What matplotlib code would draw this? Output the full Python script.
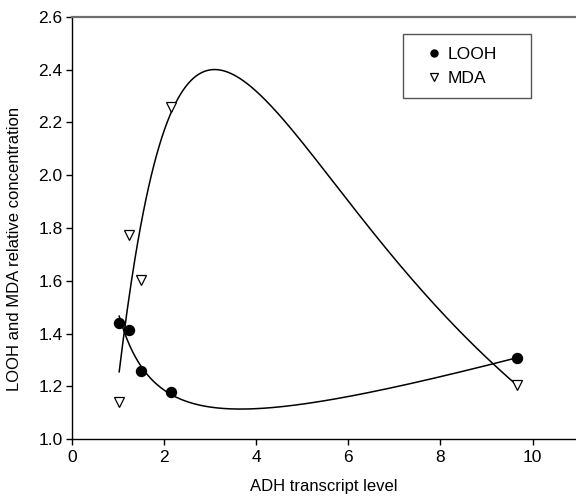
import numpy as np
import matplotlib
matplotlib.use("Agg")
from matplotlib import pyplot as plt
from matplotlib.patches import Rectangle

# measured points
adh = [1.03, 1.25, 1.50, 2.15, 9.67]
looh = [1.440, 1.414, 1.258, 1.181, 1.309]
mda = [1.143, 1.773, 1.603, 2.258, 1.204]

# fitted curves: LOOH y = a + b/x + c*x ; MDA log-normal peak
looh_fit = (0.732, 0.701, 0.0522)
mda_fit = (2.40, 3.10, 0.968)

plt.rcParams["font.family"] = ["Liberation Sans", "DejaVu Sans"]
plt.rcParams["font.size"] = 12

fig = plt.figure(figsize=(5.76, 4.99), dpi=100)
ax = fig.add_axes([0.1245, 0.1196, 0.8755, 0.8469])

xs = np.linspace(min(adh), max(adh), 300)
a, b, c = looh_fit
ax.plot(xs, a + b / xs + c * xs, color="black", lw=1.1, zorder=2)
amp, x0, w = mda_fit
ax.plot(xs, amp * np.exp(-0.5 * (np.log(xs / x0) / w) ** 2), color="black", lw=1.1, zorder=2)

ax.plot(adh, looh, "o", color="black", markersize=7.2, ls="none", label="LOOH", zorder=3)
ax.plot(adh, mda, "v", markerfacecolor="white", markeredgecolor="black", markersize=7.5,
        markeredgewidth=0.9, ls="none", label="MDA", zorder=3)

ax.set_xlim(0, 10.94)
ax.set_ylim(1.0, 2.6)
ax.set_xticks([0, 2, 4, 6, 8, 10])
ax.set_yticks(np.arange(1.0, 2.61, 0.2))
ax.yaxis.set_major_formatter(matplotlib.ticker.FormatStrFormatter("%.1f"))
ax.tick_params(direction="out", length=4, width=1, colors="black", labelsize=12.5)
ax.tick_params(axis="y", pad=2.5)

ax.spines["right"].set_visible(False)
ax.spines["top"].set_color("#6e6e6e")
ax.spines["top"].set_linewidth(1.6)
ax.spines["left"].set_linewidth(1)
ax.spines["bottom"].set_linewidth(1)

ax.set_xlabel("ADH transcript level", fontsize=12, labelpad=10)
ax.set_ylabel("LOOH and MDA relative concentration", fontsize=12, labelpad=6)
ax.yaxis.set_label_coords(-0.098, 0.45)

# legend box drawn separately so it can be wider than the entries
ax.add_patch(Rectangle((0.6564, 0.8069), 0.2538, 0.1515, transform=ax.transAxes,
                       facecolor="white", edgecolor="#555555", lw=1, zorder=4))
leg = ax.legend(loc="upper left", bbox_to_anchor=(0.7086, 0.928), frameon=False,
                markerscale=0.7, handlelength=0.6, handletextpad=0.45,
                borderpad=0, labelspacing=0.5, borderaxespad=0, fontsize=12.6)
leg.set_zorder(5)

fig.savefig("out.png", dpi=100)
